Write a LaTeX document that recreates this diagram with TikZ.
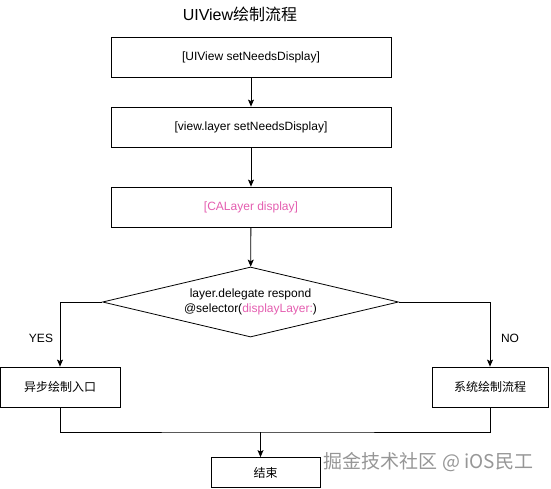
\documentclass[tikz,border=0pt]{standalone}
\usepackage{fontspec}
\setmainfont{Liberation Sans}
\newfontfamily\cjk{Noto Sans CJK SC}
\usetikzlibrary{shapes.geometric,arrows.meta}
\definecolor{selpink}{RGB}{228,94,176}
\definecolor{markgray}{RGB}{150,150,150}

\begin{document}
\begin{tikzpicture}[x=1pt,y=1pt,yscale=-1,xscale=1,
    box/.style={draw, line width=0.8pt, rectangle, inner sep=0pt, align=center, font=\fontsize{12}{14}\selectfont},
    arr/.style={-{Stealth[length=7pt,width=6pt,inset=1.5pt]}, line width=0.8pt}]
    \useasboundingbox (0,0) rectangle (551,488);

    % Title
    \draw (240,14) node [font=\fontsize{16}{18}\selectfont] (title) {UIView{\cjk 绘制流程}};

    %Shape: Rectangle
    \draw (251,57) node [box, minimum width=280pt, minimum height=40pt] (setview) {[UIView setNeedsDisplay]};
    %Shape: Rectangle
    \draw (251,127) node [box, minimum width=280pt, minimum height=40pt] (setlayer) {[view.layer setNeedsDisplay]};
    %Shape: Rectangle
    \draw (251,207) node [box, minimum width=280pt, minimum height=40pt, text=selpink] (display) {[CALayer display]};
    %Shape: Diamond
    \draw (250.5,302) node [diamond, draw, line width=0.8pt, minimum width=296pt, minimum height=70pt, aspect=4.2, inner sep=0pt, align=center, font=\fontsize{12}{14.5}\selectfont] (respond) {layer.delegate respond\\@selector({\color{selpink}displayLayer:})};
    %Shape: Rectangle
    \draw (60,387) node [box, minimum width=120pt, minimum height=40pt] (async) {\cjk 异步绘制入口};
    %Shape: Rectangle
    \draw (490,387) node [box, minimum width=116pt, minimum height=40pt] (system) {\cjk 系统绘制流程};
    %Shape: Rectangle
    \draw (265.5,472.5) node [box, minimum width=109pt, minimum height=30pt] (finish) {\cjk 结束};

    % Text Node
    \draw (41,338) node [font=\fontsize{12}{14}\selectfont] (yes) {YES};
    % Text Node
    \draw (510,338) node [font=\fontsize{12}{14}\selectfont] (no) {NO};
    % Text Node
    \draw (428.5,462) node [text=markgray, font=\cjk\fontsize{19}{20}\selectfont] (mark) {掘金技术社区 @ iOS民工};

    \coordinate (join) at (260.5,432);

    % Connectors
    \draw [arr] (setview) -- (setlayer);
    \draw [arr] (setlayer) -- (display);
    \draw [arr] (display) -- (respond);
    \draw [arr] (respond.west) -| (async.north);
    \draw [arr] (respond.east) -| (system.north);
    \draw [line width=0.8pt] (async.south) |- (join) -| (system.south);
    \draw [arr] (join) -- (join |- finish.north);

\end{tikzpicture}
\end{document}
